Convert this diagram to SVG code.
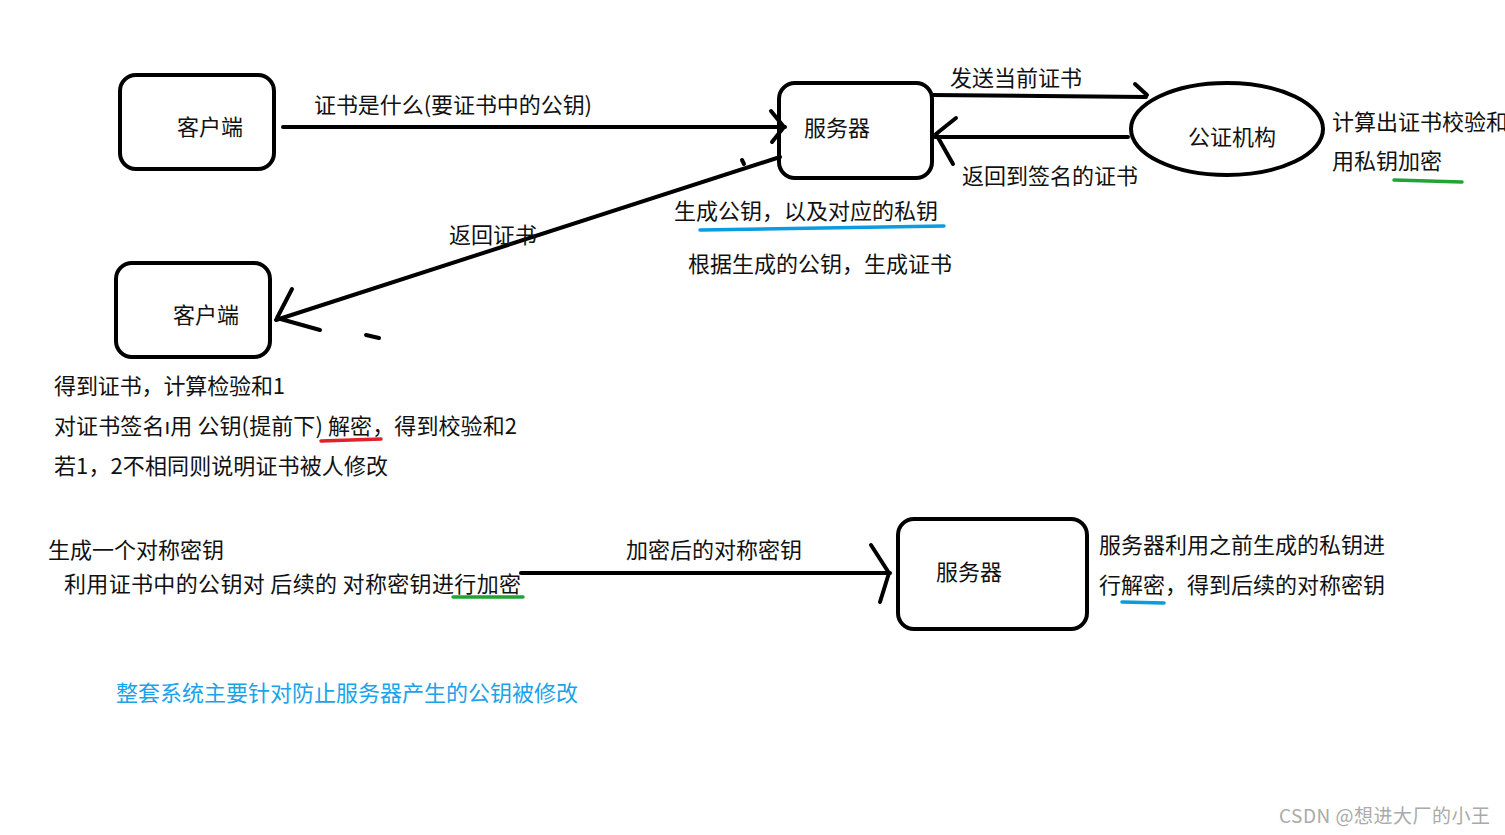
<svg xmlns="http://www.w3.org/2000/svg" width="1505" height="835" viewBox="0 0 1505 835">
<style>
.t{font-family:"Noto Sans CJK SC","Noto Sans",sans-serif;font-size:22px;fill:#111}
.box{fill:none;stroke:#000;stroke-width:4}
.ln{fill:none;stroke:#000;stroke-width:4;stroke-linecap:round;stroke-linejoin:round}
.ul{fill:none;stroke-width:3.5;stroke-linecap:round}
</style>
<rect width="1505" height="835" fill="#fff"/>
<g id="client1"><rect class="box" x="120" y="75" width="154" height="94" rx="16"/><text class="t" x="177" y="135">客户端</text></g>
<g id="server1"><rect class="box" x="779" y="83" width="153" height="95" rx="16"/><text class="t" x="804" y="136">服务器</text></g>
<g id="ca"><ellipse class="box" cx="1227" cy="129" rx="96" ry="46"/><text class="t" x="1188" y="145">公证机构</text></g>
<g id="client2"><rect class="box" x="116" y="263" width="154" height="94" rx="16"/><text class="t" x="173" y="323">客户端</text></g>
<g id="server2"><rect class="box" x="898" y="519" width="189" height="110" rx="16"/><text class="t" x="936" y="580">服务器</text></g>
<g id="connectors">
<path class="ln" d="M283 127 L785 127"/>
<path class="ln" d="M771 111 L784 127 L772 142"/>
<path class="ln" d="M932 95 L1146 97"/>
<path class="ln" d="M1135 84 L1147 95"/>
<path class="ln" d="M1128 137 L935 137"/>
<path class="ln" d="M956 118 L936 134 L953 164"/>
<path class="ln" d="M780 157 L276 320"/>
<path class="ln" d="M292 289 L277 318 L320 330"/>
<path class="ln" d="M742 160 L744 164"/>
<path class="ln" d="M366 335 L379 338"/>
<path class="ln" d="M521 573 L890 573"/>
<path class="ln" d="M871 545 L889 573 L880 602"/>
</g>
<g id="labels">
<text class="t" x="314" y="113" textLength="278" lengthAdjust="spacing">证书是什么(要证书中的公钥)</text>
<text class="t" x="950" y="86">发送当前证书</text>
<text class="t" x="962" y="184">返回到签名的证书</text>
<text class="t" x="1332" y="130">计算出证书校验和</text>
<text class="t" x="1332" y="169">用私钥加密</text>
<text class="t" x="449" y="243">返回证书</text>
<text class="t" x="674" y="219">生成公钥，以及对应的私钥</text>
<text class="t" x="688" y="272">根据生成的公钥，生成证书</text>
<text class="t" x="54" y="394" textLength="231" lengthAdjust="spacing">得到证书，计算检验和1</text>
<text class="t" x="54" y="434" textLength="463" lengthAdjust="spacing">对证书签名ı用 公钥(提前下) 解密，得到校验和2</text>
<text class="t" x="54" y="474" textLength="334" lengthAdjust="spacing">若1，2不相同则说明证书被人修改</text>
<text class="t" x="48" y="558">生成一个对称密钥</text>
<text class="t" x="64" y="592" textLength="457" lengthAdjust="spacing">利用证书中的公钥对 后续的 对称密钥进行加密</text>
<text class="t" x="626" y="558">加密后的对称密钥</text>
<text class="t" x="1099" y="553">服务器利用之前生成的私钥进</text>
<text class="t" x="1099" y="593">行解密，得到后续的对称密钥</text>
<text class="t" x="116" y="701" style="fill:#1aa3e8">整套系统主要针对防止服务器产生的公钥被修改</text>
<text class="t" x="1279" y="823" style="fill:#aaa;font-size:19px" textLength="211" lengthAdjust="spacing">CSDN @想进大厂的小王</text>
</g>
<g id="underlines">
<path class="ul" stroke="#21a336" d="M1394 180 L1462 182"/>
<path class="ul" stroke="#0a9be0" d="M700 230 L944 226"/>
<path class="ul" stroke="#e0202a" d="M321 441 L381 439"/>
<path class="ul" stroke="#21a336" d="M453 597 L523 597"/>
<path class="ul" stroke="#0a9be0" d="M1122 602 L1164 603"/>
</g>
</svg>
